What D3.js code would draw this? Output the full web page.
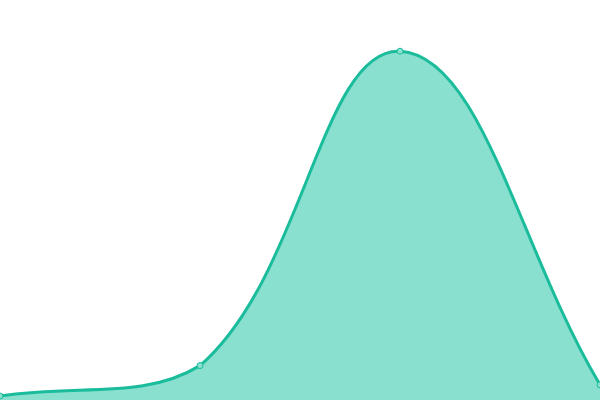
<!DOCTYPE html>
<html><head><meta charset="utf-8">
<script src="https://cdn.jsdelivr.net/npm/d3@7"></script>
<style>html,body{margin:0;padding:0;background:#fff}svg{display:block}</style>
</head><body>
<svg id="c" width="600" height="400"></svg>
<script>
const categories = ["A", "B", "C", "D"];
const values = [1, 8.6, 87.2, 3.8];

const W = 600, H = 400;
const TENSION = 0.4;
const svg = d3.select("#c");
const x = d3.scalePoint().domain(categories).range([0, W]);
const y = d3.scaleLinear().domain([0, 100]).range([H, 0]);

const pts = categories.map((c, i) => ({x: x(c), y: y(values[i])}));

// Distance-weighted spline (tension 0.4) with control points capped to the plot area
function controlPoints(p) {
  const cps = [];
  const clampX = v => Math.max(0, Math.min(W, v));
  const clampY = v => Math.max(0, Math.min(H, v));
  for (let i = 0; i < p.length; i++) {
    const prev = p[i - 1] || p[i], cur = p[i], next = p[i + 1] || p[i];
    const d01 = Math.hypot(cur.x - prev.x, cur.y - prev.y);
    const d12 = Math.hypot(next.x - cur.x, next.y - cur.y);
    let s01 = d01 / (d01 + d12), s12 = d12 / (d01 + d12);
    if (isNaN(s01)) s01 = 0;
    if (isNaN(s12)) s12 = 0;
    const fa = TENSION * s01, fb = TENSION * s12;
    cps.push({
      px: clampX(cur.x - fa * (next.x - prev.x)), py: clampY(cur.y - fa * (next.y - prev.y)),
      nx: clampX(cur.x + fb * (next.x - prev.x)), ny: clampY(cur.y + fb * (next.y - prev.y))
    });
  }
  return cps;
}

function splinePath(p, ctx) {
  const cps = controlPoints(p);
  ctx.moveTo(p[0].x, p[0].y);
  for (let i = 1; i < p.length; i++) {
    ctx.bezierCurveTo(cps[i - 1].nx, cps[i - 1].ny, cps[i].px, cps[i].py, p[i].x, p[i].y);
  }
  return ctx;
}

const linePath = splinePath(pts, d3.path()).toString();
const areaCtx = splinePath(pts, d3.path());
areaCtx.lineTo(pts[pts.length - 1].x, y(0));
areaCtx.lineTo(pts[0].x, y(0));
areaCtx.closePath();

svg.append("path").attr("d", areaCtx.toString()).attr("fill", "#89e0cf");
svg.append("path").attr("d", linePath)
  .attr("fill", "none").attr("stroke", "#1abc9c").attr("stroke-width", 3);
svg.selectAll("circle").data(pts).join("circle")
  .attr("cx", d => d.x).attr("cy", d => d.y).attr("r", 3)
  .attr("fill", "#89e0cf").attr("stroke", "#1abc9c").attr("stroke-width", 1);
</script>
</body></html>
